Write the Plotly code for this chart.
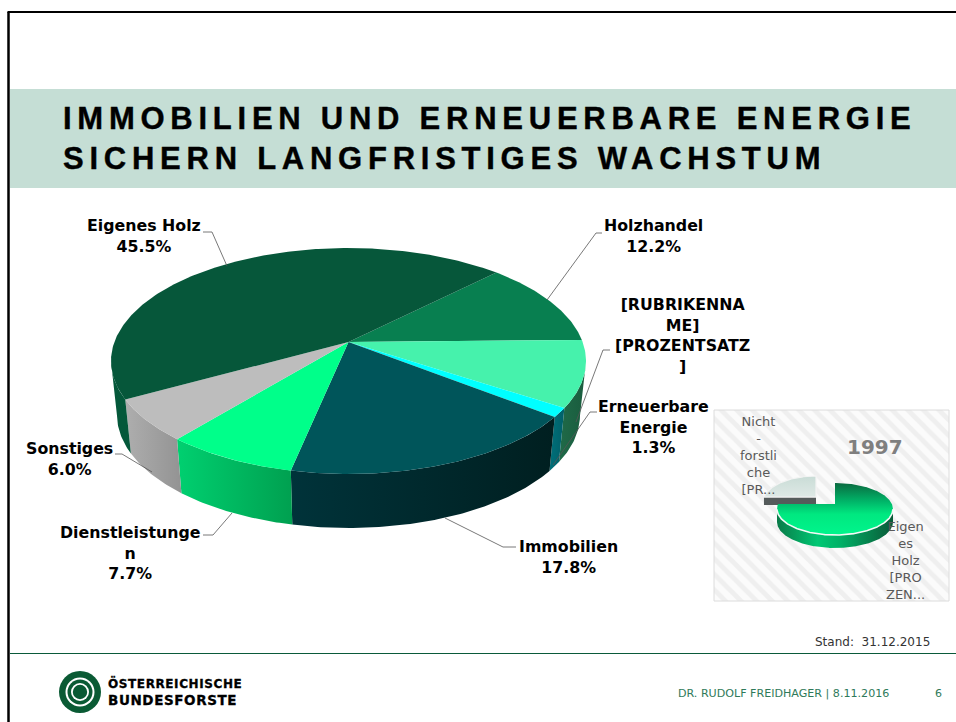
import numpy as np
import plotly.graph_objects as go

# ---- data -------------------------------------------------------------
categories = ["Holzhandel", "[RUBRIKENNAME]", "Erneuerbare Energie", "Immobilien",
              "Dienstleistungen", "Sonstiges", "Eigenes Holz"]
values = [12.2, 9.5, 1.3, 17.8, 7.7, 6.0, 45.5]
top_colors = ["#087f50", "#46f2ac", "#00ffff", "#00555a", "#00ff8a", "#bdbdbd", "#06573a"]
side_left = ["#087f50", "#1f6a48", "#00707a", "#00333a", "#00d070", "#aeaeae", "#04583a"]
side_right = ["#087f50", "#1a5c3e", "#005f68", "#001f20", "#00a050", "#939393", "#04583a"]

inset_categories = ["Eigenes Holz", "Nicht-forstliche"]
inset_values = [75, 25]

title_text = "IMMOBILIEN UND ERNEUERBARE ENERGIE<br>SICHERN LANGFRISTIGES WACHSTUM"

fig = go.Figure()


def project(theta, cx, cy, a, b, p):
    """theta: degrees clockwise from north on a unit disc; perspective onto an ellipse."""
    t = np.radians(theta)
    u, v = np.sin(t), np.cos(t)
    s = np.sqrt(1 - p * p)
    X = u * s / (1 + p * v)
    Y = (v + p) / (1 + p * v)
    return cx + a * X, cy - b * Y


def arc(t0, t1):
    return np.linspace(t0, t1, max(int(abs(t1 - t0) * 1.5), 10))


def poly(x, y, color=None, gradient=None, pattern=None, line=None):
    x, y = list(x) + [x[0]], list(y) + [y[0]]
    kw = dict(x=x, y=y, mode="lines", fill="toself",
              hoverinfo="skip", showlegend=False, line=dict(width=0))
    if color:
        kw["fillcolor"] = color
    if gradient:
        kw["fillgradient"] = gradient
    if pattern:
        kw["fillpattern"] = pattern
    if line:
        kw["line"] = line
    fig.add_trace(go.Scatter(**kw))


def hgrad(c0, c1):
    return dict(type="horizontal", colorscale=[[0, c0], [1, c1]])


def vgrad(stops):
    return dict(type="vertical", colorscale=stops)


# ---- main pie ---------------------------------------------------------
TOP = dict(cx=348.5, cy=361, a=237.5, b=113, p=0.168)
BOT = dict(cx=348.5, cy=415, a=231.5, b=113, p=0.168)
START = 45.0

edges = START + np.concatenate([[0], np.cumsum(values)]) * 3.6

# side walls: only the front half of the rim, up to the left/right extremes
for i in range(len(values)):
    t = arc(edges[i], edges[i + 1])
    t = t[np.cos(np.radians(t)) <= -TOP["p"]]
    if t.size < 2:
        continue
    xt, yt = project(t, **TOP)
    xb, yb = project(t, **BOT)
    poly(np.r_[xt, xb[::-1]], np.r_[yt, yb[::-1]],
         gradient=hgrad(side_left[i], side_right[i]))

# top surface
apex_x, apex_y = TOP["cx"], TOP["cy"] - TOP["b"] * TOP["p"]
for i in range(len(values)):
    xt, yt = project(arc(edges[i], edges[i + 1]), **TOP)
    poly(np.r_[apex_x, xt], np.r_[apex_y, yt], color=top_colors[i])

# ---- inset ------------------------------------------------------------
bx = [714, 949, 949, 714]
by = [410, 410, 601, 601]
poly(bx, by, pattern=dict(shape="\\", fgcolor="#e4e4e4", bgcolor="#fbfbfb", size=11, solidity=0.45),
     color="#fbfbfb", line=dict(width=1, color="#dcdcdc"))

IT = dict(cx=835, cy=509, a=58, b=26, p=0.19)
IB = dict(cx=835, cy=522, a=58, b=26, p=0.19)
GT = dict(cx=816, cy=502, a=53, b=26, p=0.19)
frac = inset_values[0] / sum(inset_values) * 360

# exploded small slice
t = arc(frac, 360)
xt, yt = project(t, **GT)
gax, gay = GT["cx"], GT["cy"] - GT["b"] * GT["p"]
px0, py0 = xt[0], yt[0]
poly([px0, gax, gax, px0], [py0, gay, gay + 8, py0 + 8], color="#555b5b")
poly(np.r_[gax, xt], np.r_[gay, yt],
     gradient=vgrad([[0, "#dfe9e6"], [1, "#c9dcd6"]]),
     line=dict(width=1.2, color="#f4f4f4"))

# large slice side + top
t = arc(0, frac)
t = t[np.cos(np.radians(t)) <= -IT["p"]]
xf, yf = project(t, **IT)
xb, yb = project(t, **IB)
poly(np.r_[xf, xb[::-1]], np.r_[yf, yb[::-1]],
     gradient=dict(type="horizontal",
                   colorscale=[[0, "#0a7a48"], [0.35, "#00c874"], [0.55, "#00b066"], [1, "#0a5a38"]]))
xt, yt = project(arc(0, frac), **IT)
iax, iay = IT["cx"], IT["cy"] - IT["b"] * IT["p"]
poly(np.r_[iax, xt], np.r_[iay, yt],
     gradient=vgrad([[0, "#00f58c"], [0.4, "#00e880"], [0.65, "#00b468"], [1, "#0a6a40"]]))
fig.add_trace(go.Scatter(x=xf, y=yf, mode="lines", hoverinfo="skip", showlegend=False,
                         line=dict(width=1.6, color="#f4f8f6")))

# ---- layout shapes ----------------------------------------------------
shapes = [
    dict(type="rect", x0=10, x1=956, y0=89, y1=188, fillcolor="#c5ded5", line_width=0, layer="below"),
    dict(type="line", x0=8.5, x1=8.5, y0=12, y1=722, line=dict(color="#000000", width=2.5)),
    dict(type="line", x0=7.5, x1=956, y0=12, y1=12, line=dict(color="#000000", width=2)),
    dict(type="line", x0=10, x1=956, y0=653.5, y1=653.5, line=dict(color="#0a5a3a", width=1)),
]
leaders = [
    "M203,232 L212,232 L227,266",
    "M602,233 L596,233 L547,300",
    "M610,350 L603,350 L576,422",
    "M597,412 L590,412 L553,465",
    "M115,454 L122,454 L152,472",
    "M203,535 L213,535 L232,513",
    "M445,518 L503,547 L516,547",
]
for p_ in leaders:
    shapes.append(dict(type="path", path=p_, line=dict(color="#555555", width=0.8)))

# logo rings
for r, c in [(21, "#0a5a34"), (14.5, "#ffffff"), (12.5, "#0a5a34"), (9, "#ffffff"), (7.2, "#0a5a34")]:
    shapes.append(dict(type="circle", x0=80 - r, x1=80 + r, y0=692 - r, y1=692 + r,
                       fillcolor=c, line_width=0))
fig.update_layout(shapes=shapes)

# ---- texts ------------------------------------------------------------
F = "DejaVu Sans"


def text(x, y, s, size, color="#000000", bold=False, align="center", family=F, anchor=None):
    fig.add_annotation(x=x, y=y, text=f"<b>{s}</b>" if bold else s, showarrow=False,
                       xanchor=anchor or align, yanchor="middle", align=align,
                       font=dict(family=family, size=size, color=color))


text(60.5, 138, title_text, 31, bold=True, align="left", family="Liberation Sans")

L = 15.8
text(144, 236, "Eigenes Holz<br>45.5%", L, bold=True)
text(653, 236, "Holzhandel<br>12.2%", L, bold=True)
text(682, 335, "[RUBRIKENNA<br>ME]<br>[PROZENTSATZ<br>]", L, bold=True)
text(653, 427, "Erneuerbare<br>Energie<br>1.3%", L, bold=True)
text(69.5, 459, "Sonstiges<br>6.0%", L, bold=True)
text(130, 553, "Dienstleistunge<br>n<br>7.7%", L, bold=True)
text(568, 557, "Immobilien<br>17.8%", L, bold=True)

text(758, 455, "Nicht<br>-<br>forstli<br>che<br>[PR...", 13, color="#595959")
text(905, 560, "Eigen<br>es<br>Holz<br>[PRO<br>ZEN...", 13, color="#595959")
text(875, 447, "1997", 20, color="#7f7f7f", bold=True)

text(872, 642, "Stand:  31.12.2015", 12, color="#333333")
text(783, 693, "DR. RUDOLF FREIDHAGER | 8.11.2016", 11.1, color="#2f7a5a")
text(938, 693, "6", 11, color="#2f7a5a")
text(106, 683.5, "ÖSTERREICHISCHE", 12, bold=True, align="left")
text(106, 699.5, "BUNDESFORSTE", 13.5, bold=True, align="left")

fig.update_layout(
    width=956, height=722, margin=dict(l=0, r=0, t=0, b=0),
    paper_bgcolor="#ffffff", plot_bgcolor="#ffffff", showlegend=False,
    xaxis=dict(range=[0, 956], visible=False, fixedrange=True),
    yaxis=dict(range=[722, 0], visible=False, fixedrange=True),
)
post = """
document.body.style.margin = '0';
document.querySelectorAll('.annotation-text').forEach(function (n) {
  var s = n.textContent;
  if (s.indexOf('IMMOBILIEN') === 0) {
    n.style.letterSpacing = '5.75px';
    n.style.stroke = '#000';
    n.style.strokeWidth = '0.4px';
  }
  if (s === '\\u00d6STERREICHISCHE' || s === 'BUNDESFORSTE') {
    n.style.letterSpacing = '0.6px';
    n.style.stroke = '#000';
    n.style.strokeWidth = '0.3px';
  }
});
"""
fig.write_html("out.html", config=dict(displayModeBar=False), post_script=post)
